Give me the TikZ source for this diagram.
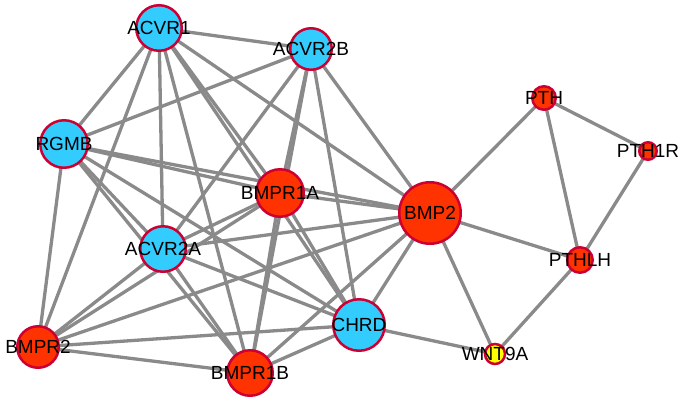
\documentclass[tikz,border=0pt]{standalone}
\usepackage{fontspec}
\setmainfont{Liberation Sans}
\usetikzlibrary{backgrounds}
\definecolor{nodeblue}{RGB}{51,204,255}
\definecolor{nodered}{RGB}{255,51,0}
\definecolor{nodeyellow}{RGB}{255,255,0}
\definecolor{rimred}{RGB}{204,0,51}
\definecolor{edgegray}{RGB}{138,138,138}
\begin{document}
\begin{tikzpicture}[x=1pt,y=-1pt,
  gene/.style={circle,draw=rimred,line width=2.5pt,inner sep=0pt,minimum size=#1},
  blue/.style={gene=#1,fill=nodeblue},
  red/.style={gene=#1,fill=nodered},
  yel/.style={gene=#1,fill=nodeyellow},
  txt/.style={font=\fontsize{19}{19}\selectfont,text=black,inner sep=0pt},
  link/.style={draw=edgegray,line width=3.3pt}]
\useasboundingbox (0,0) rectangle (688,405);
% nodes
\node[blue=45.5pt] (ACVR1) at (159,28) {};
\node[blue=41.5pt] (ACVR2B) at (311,49) {};
\node[blue=47.5pt] (RGMB) at (64,144) {};
\node[red=47.5pt] (BMPR1A) at (280,193) {};
\node[red=61.5pt] (BMP2) at (430,213) {};
\node[blue=45.5pt] (ACVR2A) at (163,249) {};
\node[blue=51.5pt] (CHRD) at (359,325) {};
\node[red=41.5pt] (BMPR2) at (38,347) {};
\node[red=45.5pt] (BMPR1B) at (250,373) {};
\node[yel=20pt] (WNT9A) at (495,354) {};
\node[red=23.5pt] (PTH) at (544,98) {};
\node[red=17.5pt] (PTH1R) at (648,151) {};
\node[red=25.5pt] (PTHLH) at (580,260) {};
% labels
\foreach \n/\t in {ACVR1/ACVR1,ACVR2B/ACVR2B,RGMB/RGMB,BMPR1A/BMPR1A,BMP2/BMP2,ACVR2A/ACVR2A,CHRD/CHRD,BMPR2/BMPR2,BMPR1B/BMPR1B,WNT9A/WNT9A,PTH/PTH,PTH1R/PTH1R,PTHLH/PTHLH}
  \node[txt] (\n-label) at (\n) {\t};
% edges
\begin{pgfonlayer}{background}
\fill[white] (0,0) rectangle (688,405);
\foreach \a/\b in {
  ACVR1/ACVR2B, ACVR1/RGMB, ACVR1/BMPR1A, ACVR1/ACVR2A, ACVR1/BMPR2, ACVR1/BMPR1B, ACVR1/CHRD, ACVR1/BMP2,
  ACVR2B/RGMB, ACVR2B/BMPR1A, ACVR2B/ACVR2A, ACVR2B/BMP2, ACVR2B/CHRD, ACVR2B/BMPR1B,
  RGMB/BMPR1A, RGMB/BMP2, RGMB/ACVR2A, RGMB/BMPR2, RGMB/CHRD, RGMB/BMPR1B,
  BMPR1A/BMP2, BMPR1A/ACVR2A, BMPR1A/BMPR2, BMPR1A/BMPR1B, BMPR1A/CHRD,
  BMP2/ACVR2A, BMP2/BMPR2, BMP2/BMPR1B, BMP2/CHRD, BMP2/PTH, BMP2/PTHLH, BMP2/WNT9A,
  ACVR2A/BMPR2, ACVR2A/BMPR1B, ACVR2A/CHRD,
  BMPR2/BMPR1B, BMPR2/CHRD, BMPR1B/CHRD, CHRD/WNT9A,
  PTH/PTH1R, PTH/PTHLH, PTH1R/PTHLH, PTHLH/WNT9A}
  \draw[link] (\a.center) -- (\b.center);
\end{pgfonlayer}
\end{tikzpicture}
\end{document}
